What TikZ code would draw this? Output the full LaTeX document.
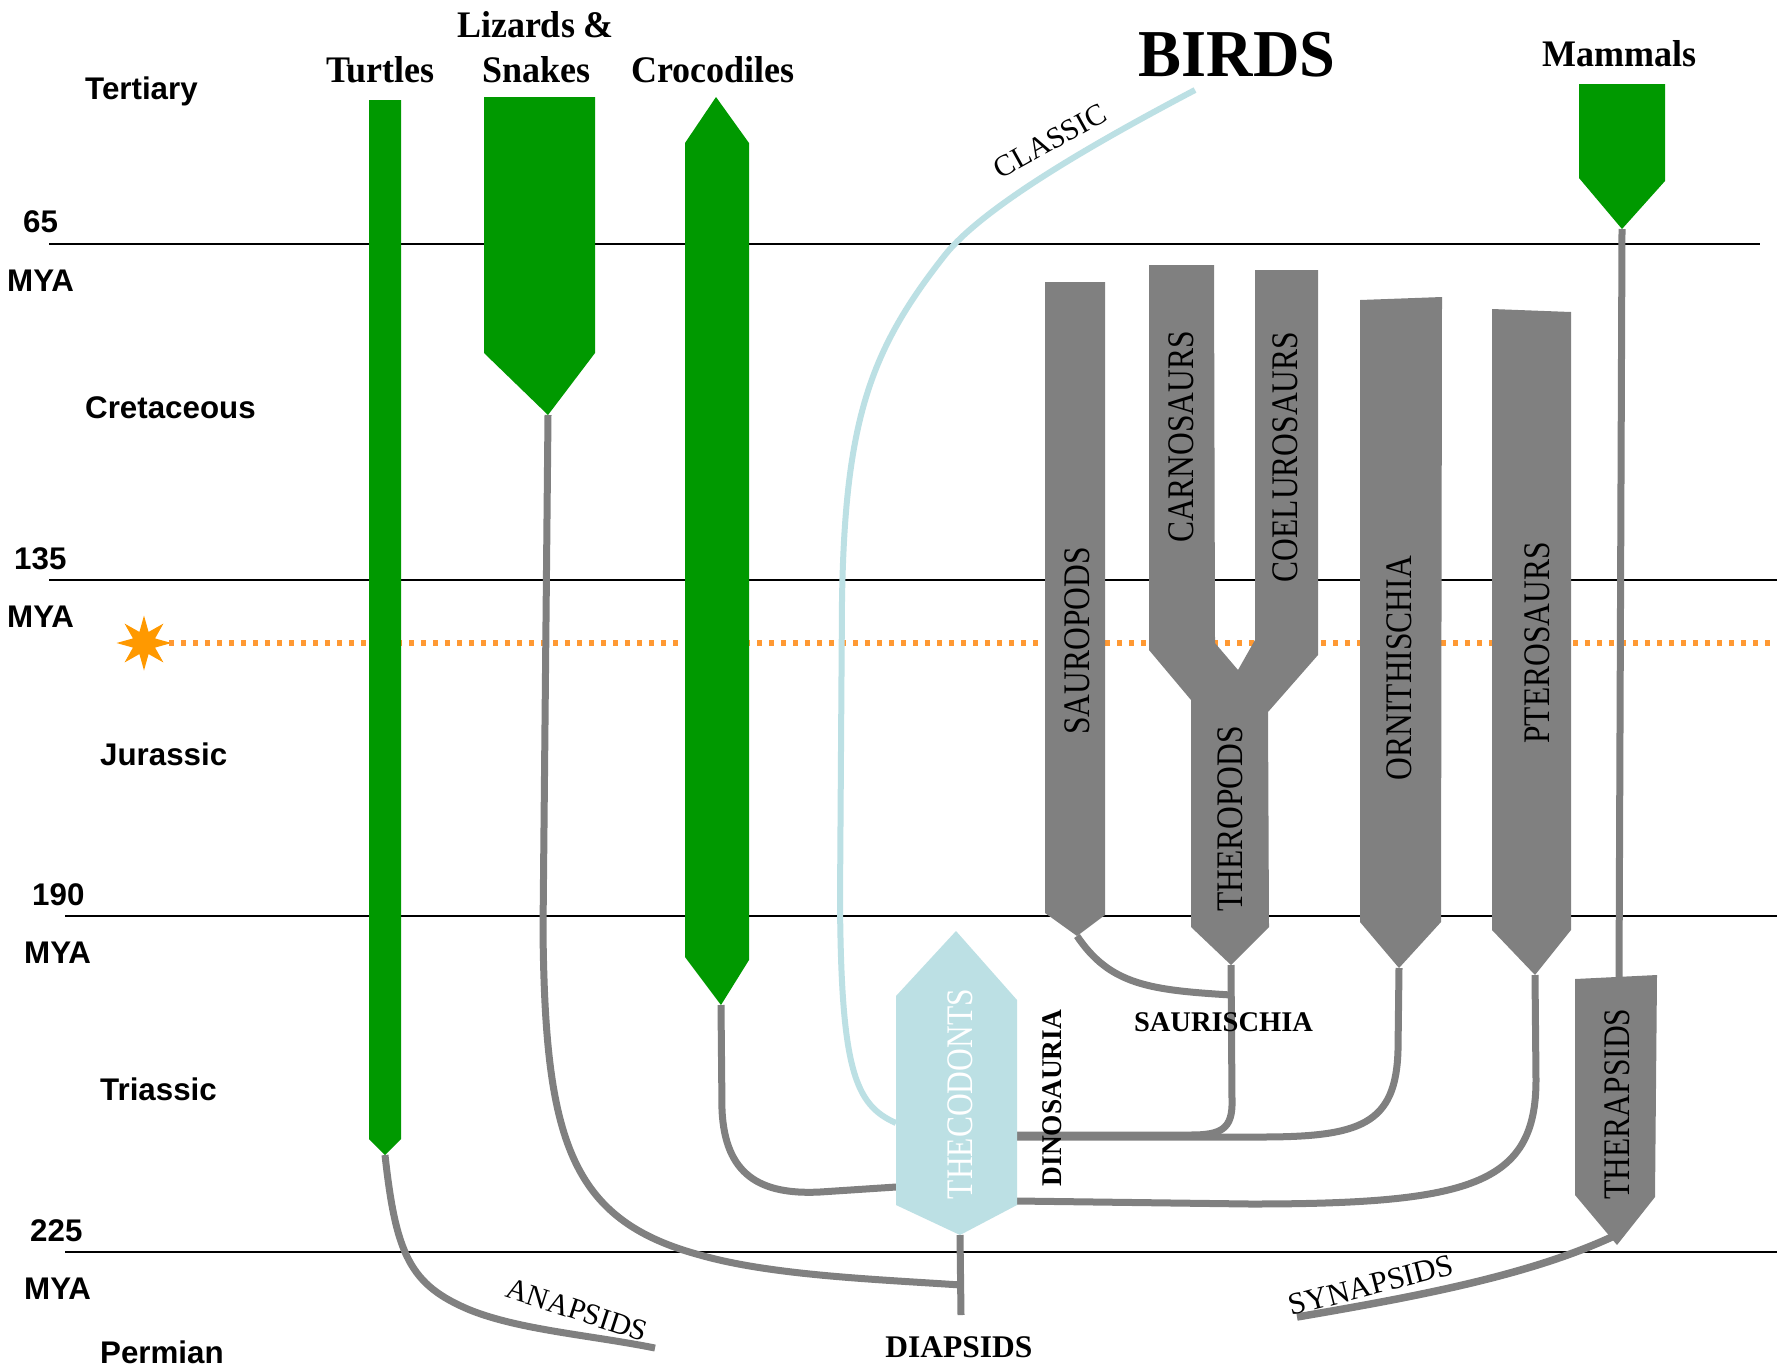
\documentclass[tikz,border=0pt]{standalone}
\usepackage{fontspec}
\setmainfont{Liberation Serif}
\newfontfamily\sansb{Liberation Sans}
\newfontfamily\barf[FakeStretch=0.84]{Liberation Serif}
\newfontfamily\topf[FakeStretch=0.96]{Liberation Serif}
\usetikzlibrary{shapes.geometric}
\definecolor{dgreen}{RGB}{0,153,0}
\definecolor{bgray}{RGB}{128,128,128}
\definecolor{lblue}{RGB}{188,224,228}
\definecolor{dotorange}{RGB}{255,153,51}
\definecolor{starorange}{RGB}{255,153,0}
\tikzset{
  era/.style={font=\sansb\bfseries\fontsize{31.3}{34}\selectfont, anchor=base west, inner sep=0pt},
  toplab/.style={font=\topf\bfseries\fontsize{37.5}{40}\selectfont, anchor=base, inner sep=0pt},
  barlab/.style={font=\barf\fontsize{37.5}{40}\selectfont, rotate=90, inner sep=0pt},
  curvelab/.style={font=\fontsize{30}{32}\selectfont, inner sep=0pt},
  boldlab/.style={font=\bfseries\fontsize{28.5}{30}\selectfont, inner sep=0pt},
  conn/.style={draw=bgray, line width=7pt},
  classicline/.style={draw=lblue, line width=6pt},
  mya/.style={black, line width=2.5pt},
}
\begin{document}
\begin{tikzpicture}[x=1pt,y=-1pt]
\useasboundingbox (0,0) rectangle (1777,1369);
\fill[white] (0,0) rectangle (1777,1369);

% time lines
\draw[mya] (49,244) -- (1760,244);
\draw[mya] (49,580) -- (1777,580);
\draw[mya] (65,916) -- (1777,916);
\draw[mya] (65,1252) -- (1777,1252);

% orange marker
\node[star, star points=8, star point ratio=2.3, minimum size=55pt, inner sep=0pt, fill=starorange] (star) at (144,643) {};
\coordinate (dotEnd) at (1777,643);
\draw[dotorange, line width=6pt, dash pattern=on 5pt off 7pt] (169,643) -- (dotEnd);

% named tips
\coordinate (turtleTip) at (385,1155);
\coordinate (lizTip) at (548,415);
\coordinate (crocTip) at (721,1005);
\coordinate (mamTip) at (1622,229);
\coordinate (sauTip) at (1077,936);
\coordinate (theTip) at (1231,965);
\coordinate (ornTip) at (1399,968);
\coordinate (ptTip) at (1535,975);
\coordinate (thpTop) at (1619,977);
\coordinate (thpTip) at (1617,1245);
\coordinate (thcTip) at (960,1235);
\coordinate (birdsEnd) at (1195,90);
\coordinate (anapEnd) at (655,1348);
\coordinate (synStart) at (1297,1317);
\coordinate (diapBot) at (961,1315);
\coordinate (diapJoin) at (961,1285);
\coordinate (thcLeftA) at (896,1123);
\coordinate (thcLeftB) at (896,1187);
\coordinate (thcRightA) at (1017,1135);
\coordinate (thcRightB) at (1017,1201);

% connectors
\draw[classicline] (birdsEnd) .. controls (1100,140) and (985,205) .. (945,255)
   .. controls (870,350) and (845,420) .. (842,600) -- (840,900)
   .. controls (841,1070) and (855,1105) .. (thcLeftA);
\draw[conn] (turtleTip) .. controls (396,1255) and (410,1285) .. (470,1310)
   .. controls (520,1330) and (590,1335) .. (anapEnd);
\draw[conn] (lizTip) -- (543,930) .. controls (545,1140) and (570,1220) .. (700,1255)
   .. controls (770,1275) and (870,1279) .. (diapJoin);
\draw[conn] (thcTip) -- (diapBot);
\draw[conn] (crocTip) -- (722,1110) .. controls (725,1175) and (760,1195) .. (820,1192) -- (thcLeftB);
\draw[conn] (sauTip) .. controls (1110,985) and (1150,990) .. (1231,995);
\draw[conn] (theTip) -- (1232,1100) .. controls (1233,1130) and (1220,1135) .. (1190,1135) -- (thcRightA);
\draw[conn] (ornTip) -- (1398,1050) .. controls (1396,1125) and (1360,1137) .. (1260,1137) -- (1017,1137);
\draw[conn] (ptTip) -- (1536,1080) .. controls (1536,1185) and (1470,1204) .. (1250,1204) -- (thcRightB);
\draw[conn] (mamTip) -- (thpTop);
\draw[draw=bgray, line width=7.5pt] (synStart) .. controls (1420,1296) and (1530,1275) .. (1614,1236);

% green bars
\fill[dgreen] (369,100) -- (401,100) -- (401,1139) -- (turtleTip) -- (369,1139) -- cycle;
\fill[dgreen] (484,97) -- (595,97) -- (595,353) -- (lizTip) -- (484,353) -- cycle;
\fill[dgreen] (716,97) -- (749,143) -- (749,960) -- (crocTip) -- (685,957) -- (685,143) -- cycle;
\fill[dgreen] (1579,84) -- (1665,84) -- (1665,181) -- (mamTip) -- (1579,178) -- cycle;

% gray bars
\fill[bgray] (1045,282) -- (1105,282) -- (1105,915) -- (sauTip) -- (1045,913) -- cycle;
\fill[bgray] (1149,265) -- (1214,265) -- (1215,643) -- (1238,670) -- (1255,640) -- (1255,270)
   -- (1318,270) -- (1318,655) -- (1268,712) -- (1269,927) -- (theTip) -- (1191,927)
   -- (1191,700) -- (1149,650) -- cycle;
\fill[bgray] (1360,300) -- (1442,297) -- (1441,922) -- (ornTip) -- (1360,922) -- cycle;
\fill[bgray] (1492,309) -- (1571,312) -- (1571,930) -- (ptTip) -- (1492,930) -- cycle;
\fill[bgray] (1575,979) -- (1657,975) -- (1655,1197) -- (thpTip) -- (1575,1195) -- cycle;

% thecodonts
\fill[lblue] (956,931) -- (1017,1000) -- (1017,1205) -- (thcTip) -- (896,1205) -- (896,996) -- cycle;

% era labels
\node[era] (tert) at (85,99) {Tertiary};
\node[era] (n65) at (23,232) {65};
\node[era] (m65) at (7,291) {MYA};
\node[era] (cret) at (85,418) {Cretaceous};
\node[era] (n135) at (14,569) {135};
\node[era] (m135) at (7,627) {MYA};
\node[era] (jur) at (100,765) {Jurassic};
\node[era] (n190) at (32,905) {190};
\node[era] (m190) at (24,963) {MYA};
\node[era] (tri) at (100,1100) {Triassic};
\node[era] (n225) at (30,1241) {225};
\node[era] (m225) at (24,1299) {MYA};
\node[era] (perm) at (100,1363) {Permian};

% top labels
\node[toplab] (turtles) at (380.5,82) {Turtles};
\node[toplab] (lizards) at (535.5,37) {Lizards \&};
\node[toplab] (snakes) at (536.5,82) {Snakes};
\node[toplab] (crocs) at (713,82) {Crocodiles};
\node[toplab] (mammals) at (1619.5,66) {Mammals};
\node[toplab, font=\topf\bfseries\fontsize{67}{70}\selectfont] (birds) at (1237,76) {BIRDS};

% bar labels
\node[barlab] (saurop) at (1077,641) {SAUROPODS};
\node[barlab] (carno) at (1181,437) {CARNOSAURS};
\node[barlab] (coelu) at (1285,457) {COELUROSAURS};
\node[barlab] (thero) at (1230,819) {THEROPODS};
\node[barlab] (ornith) at (1399,668) {ORNITHISCHIA};
\node[barlab] (ptero) at (1537,643) {PTEROSAURS};
\node[barlab] (therap) at (1617,1104) {THERAPSIDS};
\node[barlab, text=white] (theco) at (960,1094) {THECODONTS};

% other labels
\node[boldlab, rotate=90, font=\topf\bfseries\fontsize{28.5}{30}\selectfont] (dino) at (1052,1098) {DINOSAURIA};
\node[boldlab, anchor=base] (sauris) at (1223.5,1031) {SAURISCHIA};
\node[boldlab, anchor=base, font=\bfseries\fontsize{31.5}{33}\selectfont] (diap) at (959,1357) {DIAPSIDS};
\node[curvelab, rotate=-18] (anap) at (577,1310) {ANAPSIDS};
\node[curvelab, rotate=14.5, font=\fontsize{31}{33}\selectfont] (synap) at (1371,1285) {SYNAPSIDS};
\node[curvelab, rotate=29] (classic) at (1050,141) {CLASSIC};
\end{tikzpicture}
\end{document}
